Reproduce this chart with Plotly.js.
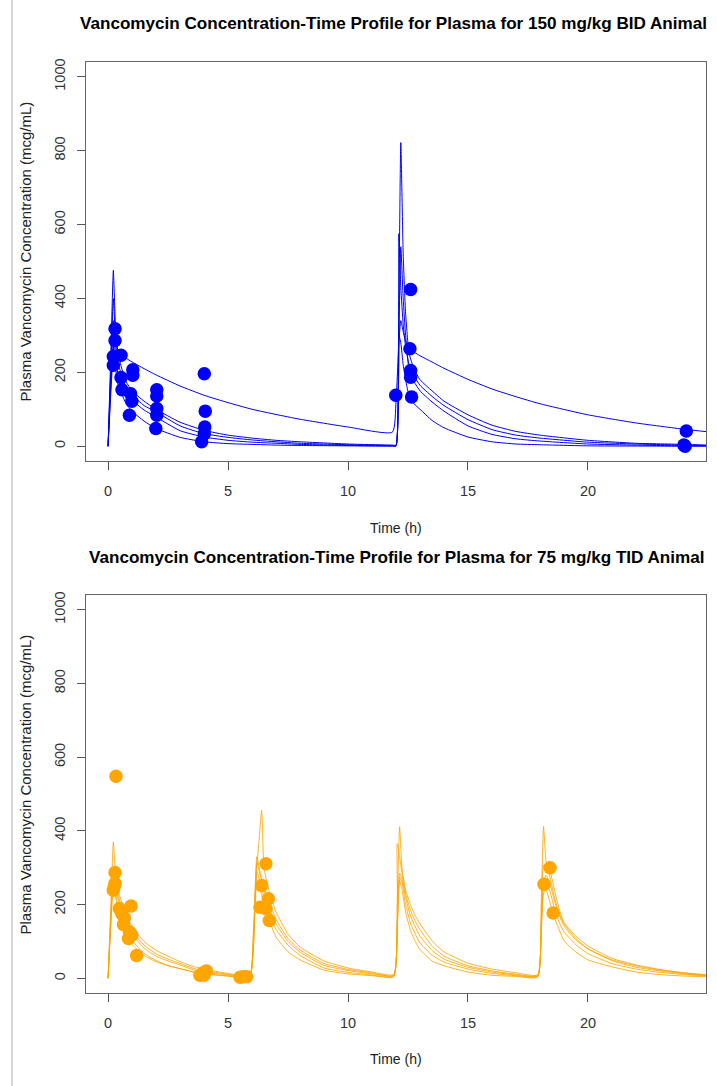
<!DOCTYPE html>
<html>
<head>
<meta charset="utf-8">
<script src="https://cdn.plot.ly/plotly-3.0.1.min.js"></script>
<style>html,body{margin:0;padding:0;background:#fff;}#chart{width:717px;height:1086px;}</style>
</head>
<body>
<div id="chart"></div>
<script>
// ---------- 150 mg/kg BID: model curves ----------
const tBID = [0,0.12,0.22,0.3,0.4,0.55,0.75,1,1.5,2,3,4,5,6,7,8,10,11.85,12,12.12,12.2,12.3,12.4,12.55,12.75,13,13.5,14,15,16,17,18,20,22,24,25];
const bidA = [0,150,260,290,262,245,238,228,210,193,163,138,118,100,86,73,52,38,120,280,340,310,285,264,255,245,228,211,181,155,134,115,85,63,46,39];
const bidB = [0,260,476,340,260,215,175,150,122,100,65,43,30,22,16,12,6,3,3,400,822,520,360,250,210,180,150,122,85,57,40,30,16,8,5,3];
const bidC = [0,220,400,300,230,195,160,140,110,93,55,34,24,17,12,8,4,2,2,575,430,330,270,220,190,165,135,110,72,45,30,22,11,6,3,2];
const bidD = [0,200,340,260,200,175,145,125,98,79,42,25,16,11,8,5,2,1,1,300,540,400,300,205,175,150,120,95,55,32,20,14,6,3,1,1];
const bidE = [0,170,280,220,170,145,115,95,68,48,24,12,7,5,3,2,1,0,0,300,280,220,180,135,115,100,70,50,25,12,6,4,1,0.5,0,0];
// observed BID
const bidObsT = [0.29,0.29,0.22,0.54,0.22,1.03,1.03,0.54,0.58,0.94,0.99,0.89,2.03,2.03,2.03,2.03,1.99,4.01,4.05,4.03,4.01,3.9,11.99,12.61,12.58,12.61,12.61,12.65,24.1,24.0,24.05];
const bidObsC = [318,286,243,246,219,207,192,186,153,142,122,84,153,136,102,84,48,196,95,52,34,12,138,424,264,205,187,133,41,3,0];

// ---------- 75 mg/kg TID: model curves ----------
const tTID = [0,0.12,0.22,0.3,0.4,0.55,0.75,1,1.5,2,2.5,3,3.5,4,5,5.9,6.05,6.2,6.3,6.4,6.5,6.7,7,7.5,8,9,10,11,11.9,12.05,12.15,12.25,12.4,12.6,12.8,13,13.5,14,15,16,17,17.9,18.05,18.15,18.25,18.4,18.6,18.8,19,19.5,20,21,22,23,24,25];
const tidA = [0,200,370,290,240,210,175,140,100,76,60,45,33,25,13,7, 120,300,380,456,300,240,180,120,85,47,28,17,10, 200,411,300,240,200,170,148,102,72,41,25,15,9, 200,412,320,280,220,178,148,108,80,50,34,22,14,8];
const tidB = [0,180,300,270,230,195,160,128,90,66,52,40,28,21,11,6, 100,330,300,270,250,210,160,108,77,40,24,14,8, 365,330,285,230,185,155,132,88,60,34,20,11,7, 150,307,305,295,240,188,152,114,88,54,36,24,15,9];
const tidC = [0,170,290,260,220,185,150,120,82,60,47,36,24,17,9,5, 90,315,290,265,240,195,148,100,71,35,21,12,7, 150,285,270,220,170,140,114,76,52,30,17,9,6, 140,257,280,260,210,172,142,104,80,48,30,20,12,7];
const tidD = [0,160,280,240,200,165,130,102,68,48,35,26,18,13,6,3, 80,290,270,245,220,180,133,90,62,28,16,9,5, 140,275,260,200,150,120,96,63,44,25,13,7,4, 130,250,260,240,190,152,126,91,67,40,25,16,10,6];
const tidE = [0,150,250,225,190,155,120,92,62,45,34,26,18,12,6,4, 70,260,250,225,200,160,112,72,50,22,12,7,4, 130,266,240,180,130,100,78,47,34,17,8,5,3, 120,230,240,210,165,132,102,71,50,31,17,10,6,4];
// observed TID
const tidObsT = [0.33,0.29,0.29,0.26,0.22,0.47,0.96,0.57,0.68,0.64,0.89,0.99,0.85,1.19,3.97,4.0,4.1,3.83,5.78,5.64,5.5,6.58,6.4,6.68,6.33,6.58,6.72,18.42,18.17,18.55];
const tidObsC = [548,287,257,250,239,189,196,175,164,146,126,117,108,62,15,8,20,8,4,4,3,311,252,216,193,189,157,300,255,177];

// ---------- axes ----------
const xTicks = [0,5,10,15,20];
const yTicks = [0,200,400,600,800,1000];
const titleTop = "Vancomycin Concentration-Time Profile for Plasma for 150 mg/kg BID Animal";
const titleBot = "Vancomycin Concentration-Time Profile for Plasma for 75 mg/kg TID Animal";
const xLabel = "Time (h)";
const yLabel = "Plasma Vancomycin Concentration (mcg/mL)";

const BLUE = "#0000FF", ORANGE = "#FFA500";
const FONT = "Liberation Sans, Arial, sans-serif";

const traces = [];
[bidA,bidB,bidC,bidD,bidE].forEach(c => traces.push({
  x: tBID, y: c, type: "scatter", mode: "lines", xaxis: "x", yaxis: "y",
  line: {color: BLUE, width: 1, shape: "spline", smoothing: 0.5}, hoverinfo: "skip"
}));
traces.push({x: bidObsT, y: bidObsC, type: "scatter", mode: "markers", xaxis: "x", yaxis: "y",
  marker: {color: BLUE, size: 13.5}});
[tidA,tidB,tidC,tidD,tidE].forEach(c => traces.push({
  x: tTID, y: c, type: "scatter", mode: "lines", xaxis: "x2", yaxis: "y2",
  line: {color: ORANGE, width: 1, shape: "spline", smoothing: 0.5}, opacity: 0.85, hoverinfo: "skip"
}));
traces.push({x: tidObsT, y: tidObsC, type: "scatter", mode: "markers", xaxis: "x2", yaxis: "y2",
  marker: {color: ORANGE, size: 13.5}});

function xa(anchor){
  return {anchor: anchor, range: [-0.92, 24.92], tickvals: xTicks, ticktext: xTicks.map(String),
    ticks: "outside", ticklen: 8, tickcolor: "#555", tickwidth: 1,
    showline: true, mirror: true, linecolor: "#666", linewidth: 1.3,
    showgrid: false, zeroline: false, ticklabelstandoff: 8,
    tickfont: {family: FONT, size: 14.5, color: "#333"}};
}
function ya(anchor, dom){
  return {anchor: anchor, domain: dom, range: [-40, 1040], tickvals: yTicks, ticktext: yTicks.map(String),
    ticks: "outside", ticklen: 8, tickcolor: "#555", tickwidth: 1, tickangle: -90,
    showline: true, mirror: true, linecolor: "#666", linewidth: 1.3,
    showgrid: false, zeroline: false, ticklabelstandoff: 6,
    tickfont: {family: FONT, size: 14.5, color: "#333"}};
}

const H = 931; // plot-area height in px
function py(px){ return (993 - px) / H; }
function pxX(px){ return (px - 86) / 620; }

const layout = {
  width: 717, height: 1086,
  margin: {l: 86, r: 11, t: 62, b: 93, pad: 0},
  paper_bgcolor: "#fff", plot_bgcolor: "#fff",
  showlegend: false,
  font: {family: FONT, color: "#222"},
  xaxis: xa("y"), yaxis: ya("x", [py(461), 1]),
  xaxis2: xa("y2"), yaxis2: ya("x2", [0, py(595)]),
  annotations: [
    {text: "<b>" + titleTop + "</b>", xref: "paper", yref: "paper", x: pxX(393), y: py(24), xanchor: "center", yanchor: "middle", showarrow: false, font: {family: FONT, size: 17.1, color: "#000"}},
    {text: "<b>" + titleBot + "</b>", xref: "paper", yref: "paper", x: pxX(397), y: py(557), xanchor: "center", yanchor: "middle", showarrow: false, font: {family: FONT, size: 17.1, color: "#000"}},
    {text: xLabel, xref: "paper", yref: "paper", x: 0.5, y: py(528), xanchor: "center", yanchor: "middle", showarrow: false, font: {family: FONT, size: 14, color: "#222"}},
    {text: xLabel, xref: "paper", yref: "paper", x: 0.5, y: py(1059), xanchor: "center", yanchor: "middle", showarrow: false, font: {family: FONT, size: 14, color: "#222"}},
    {text: yLabel, xref: "paper", yref: "paper", x: pxX(25), y: py(251.5), xanchor: "center", yanchor: "middle", textangle: -90, showarrow: false, font: {family: FONT, size: 15, color: "#222"}},
    {text: yLabel, xref: "paper", yref: "paper", x: pxX(25), y: py(784.5), xanchor: "center", yanchor: "middle", textangle: -90, showarrow: false, font: {family: FONT, size: 15, color: "#222"}}
  ],
  shapes: [
    {type: "line", xref: "paper", yref: "paper", x0: pxX(12), x1: pxX(12), y0: py(1086), y1: py(0), line: {color: "#c8c8c8", width: 1.5}}
  ]
};

Plotly.newPlot("chart", traces, layout, {staticPlot: true, displayModeBar: false});
</script>
</body>
</html>
